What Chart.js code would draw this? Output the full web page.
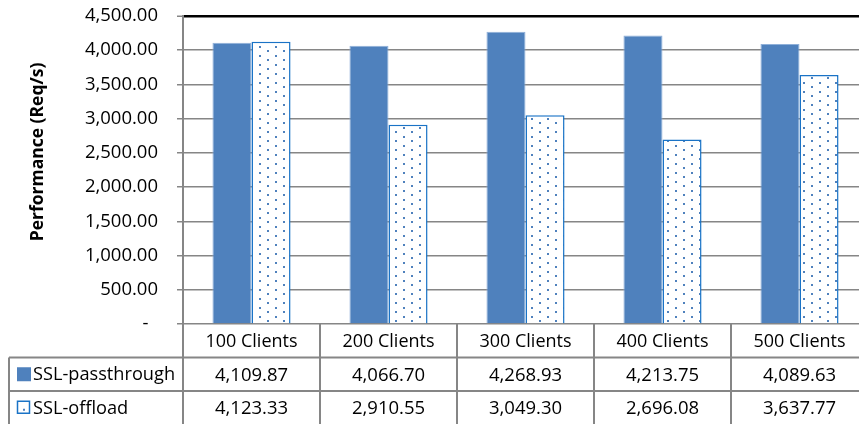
<!DOCTYPE html>
<html><head><meta charset="utf-8">
<script src="https://cdn.jsdelivr.net/npm/chart.js@4"></script>
<style>
html,body{margin:0;padding:0;overflow:hidden;background:#fff}
#wrap{width:859px;height:424px;overflow:hidden;position:relative}
canvas{display:block}
</style></head>
<body><div id="wrap"><canvas id="c" width="880" height="424"></canvas></div>
<script>
const categories = ['100 Clients','200 Clients','300 Clients','400 Clients','500 Clients'];
const sslPassthrough = [4109.87, 4066.70, 4268.93, 4213.75, 4089.63];
const sslOffload = [4123.33, 2910.55, 3049.30, 2696.08, 3637.77];
const seriesNames = ['SSL-passthrough','SSL-offload'];
const yMin = 0, yMax = 4500, yStep = 500;
const yTitle = 'Performance (Req/s)';

const FONT = '"Open Sans"';
const FS_NUM = 18.5, FS_CAT = 18, FS_SER = 18.2;
const TEXT = '#000';
const GRID = '#868686';
const fmt = v => v.toLocaleString('en-US',{minimumFractionDigits:2, maximumFractionDigits:2});

function dotPattern(){
  const c = document.createElement('canvas');
  c.width = 16; c.height = 9;
  const g = c.getContext('2d');
  g.fillStyle = '#fff'; g.fillRect(0,0,16,9);
  g.fillStyle = '#4F81BD';
  g.fillRect(3,1,2,2);
  g.fillRect(11,5,2,2);
  return g.createPattern(c,'repeat');
}
const pat = dotPattern();

const tablePlugin = {
  id:'table',
  afterDraw(chart){
    const {ctx, chartArea:ca, scales:{x}} = chart;
    const H = chart.height, W = chart.width;
    const half = (x.getPixelForValue(1) - x.getPixelForValue(0))/2;
    const bounds = [x.getPixelForValue(0)-half].concat(categories.map((c,i)=>x.getPixelForValue(i)+half));
    const y0 = ca.bottom;
    const rowH = 33.5;
    const r1 = y0 + rowH, r2 = y0 + 2*rowH;
    const left = 9;
    ctx.save();
    ctx.strokeStyle = GRID; ctx.lineWidth = 2;
    const line=(a,b,c,d)=>{ctx.beginPath();ctx.moveTo(a,b);ctx.lineTo(c,d);ctx.stroke();};
    bounds.forEach(b=>line(b,y0,b,H));
    line(left,r1,W,r1); line(left,r2,W,r2); line(left,r1,left,H);
    ctx.fillStyle = TEXT;
    ctx.textAlign='center'; ctx.textBaseline='middle';
    categories.forEach((c,i)=>{
      const cx = x.getPixelForValue(i);
      ctx.font = FS_CAT+'px '+FONT;
      ctx.fillText(c, cx, y0+rowH/2+1);
      ctx.font = FS_NUM+'px '+FONT;
      ctx.fillText(fmt(sslPassthrough[i]), cx, r1+rowH/2+1);
      ctx.fillText(fmt(sslOffload[i]), cx, r2+rowH/2+1);
    });
    // legend keys
    ctx.textAlign='left';
    ctx.font = FS_SER+'px '+FONT;
    const k1y = r1+rowH/2;
    ctx.fillStyle='#4F81BD';
    ctx.fillRect(17, k1y-7, 14, 14);
    ctx.fillStyle=TEXT;
    ctx.fillText(seriesNames[0], 33, k1y+1);
    const k2y = r2+rowH/2;
    ctx.fillStyle='#fff'; ctx.fillRect(17,k2y-7,13,13);
    ctx.strokeStyle='#1a73c6'; ctx.lineWidth=1.5;
    ctx.strokeRect(17.5,k2y-6.5,12,12);
    ctx.fillStyle='#4F81BD'; ctx.fillRect(23,k2y+1,2,2);
    ctx.fillStyle=TEXT;
    ctx.fillText(seriesNames[1], 33, k2y+1);
    // y title
    ctx.translate(38, 152);
    ctx.rotate(-Math.PI/2);
    ctx.textAlign='center';
    ctx.font = 'bold 17.5px '+FONT;
    ctx.fillText(yTitle, 0, 0);
    ctx.restore();
  }
};

new Chart(document.getElementById('c'), {
  type:'bar',
  data:{
    labels: categories,
    datasets:[
      {label:seriesNames[0], data:sslPassthrough, backgroundColor:'#4F81BD', borderColor:'#8fb0d9', borderWidth:1, borderSkipped:'start'},
      {label:seriesNames[1], data:sslOffload, backgroundColor:pat, borderColor:'#1a73c6', borderWidth:1.5, borderSkipped:'start'}
    ]
  },
  options:{
    responsive:false, animation:false, devicePixelRatio:1,
    layout:{padding:{left:0, top:16, right:12, bottom:100}},
    datasets:{bar:{categoryPercentage:0.57, barPercentage:1.0}},
    plugins:{legend:{display:false}, tooltip:{enabled:false}},
    scales:{
      x:{display:false},
      y:{
        min:yMin, max:yMax,
        afterFit(s){ s.width = 183; s.paddingTop = 0; s.paddingBottom = 0; },
        ticks:{stepSize:yStep, padding:19, color:TEXT, font:{family:'Open Sans', size:FS_NUM},
          callback:v => v===0 ? '-  ' : fmt(v)},
        grid:{color:c => c.tick && c.tick.value===yMax ? '#000' : GRID,
              lineWidth:c => c.tick && c.tick.value===yMax ? 2.5 : 1.5,
              tickLength:6, tickColor:GRID, tickWidth:1.5},
        border:{color:GRID, width:2}
      }
    }
  },
  plugins:[tablePlugin]
});
</script>
</body></html>
